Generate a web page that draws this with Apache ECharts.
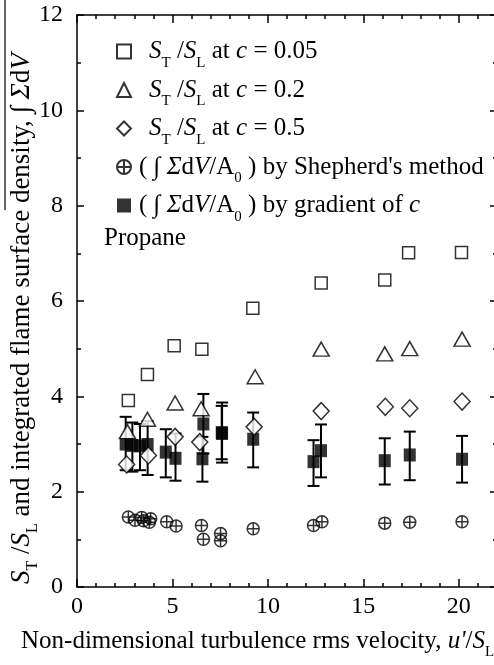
<!DOCTYPE html>
<html><head><meta charset="utf-8">
<script src="https://cdn.jsdelivr.net/npm/echarts@6/dist/echarts.min.js"></script>
<style>html,body{margin:0;padding:0;background:#fff}#c{width:494px;height:665px}</style>
</head><body><div id="c"></div>
<script>
// ---- data (x = u'/S_L, y) ----
const xTicks = [0, 5, 10, 15, 20];
const yTicks = [0, 2, 4, 6, 8, 10, 12];
const st_c005 = [[2.69,3.91],[3.69,4.46],[5.09,5.06],[6.54,4.99],[9.21,5.85],[12.79,6.38],[16.12,6.44],[17.37,7.01],[20.14,7.02]];
const st_c02 = [[2.64,3.26],[3.69,3.52],[5.14,3.86],[6.50,3.74],[9.33,4.41],[12.79,4.99],[16.12,4.89],[17.43,5.00],[20.17,5.20]];
const st_c05 = [[2.60,2.57],[3.74,2.76],[5.14,3.15],[6.43,3.04],[9.28,3.36],[12.79,3.69],[16.15,3.78],[17.43,3.75],[20.17,3.89]];
const fsd_shepherd = [[2.69,1.47],[3.04,1.40],[3.39,1.46],[3.48,1.39],[3.86,1.43],[3.79,1.36],[4.70,1.37],[5.19,1.28],[6.52,1.29],[6.62,1.00],[7.52,1.12],[7.52,0.97],[9.23,1.22],[12.39,1.29],[12.83,1.37],[16.12,1.34],[17.43,1.36],[20.17,1.37]];
// x, y, low, high
const fsd_gradient = [[2.55,3.00,2.45,3.57],[2.90,2.97,2.42,3.45],[3.30,2.96,2.45,3.42],[3.70,2.99,2.35,3.48],[4.65,2.83,2.30,3.31],[5.16,2.70,2.23,3.22],[6.57,2.69,2.21,3.15],[6.62,3.42,2.80,4.05],[7.58,3.24,2.68,3.80],[7.60,3.22,2.61,3.87],[9.23,3.10,2.51,3.66],[12.39,2.63,2.12,3.08],[12.78,2.86,2.30,3.41],[16.12,2.65,2.15,3.12],[17.43,2.77,2.24,3.26],[20.17,2.68,2.19,3.17]];
const seriesNames = ['ST/SL at c = 0.05','ST/SL at c = 0.2','ST/SL at c = 0.5',"Shepherd's method",'gradient of c'];

const FF = 'Liberation Serif';
const FS = 25;
function mkRich(fs, sfs, lh){
  return {
    n:{fontFamily:FF,fontSize:fs,color:'#000',lineHeight:lh},
    i:{fontFamily:FF,fontSize:fs,color:'#000',fontStyle:'italic',lineHeight:lh},
    s:{fontFamily:FF,fontSize:sfs,color:'#000',lineHeight:sfs,verticalAlign:'bottom'},
    g:{width:13, lineHeight:lh},
    h:{width:3, lineHeight:lh}
  };
}
const rich = mkRich(FS, 15, 38);
const richY = mkRich(27, 16, 38);
const legendText = {
  'ST/SL at c = 0.05':'{g|}{i|S}{s|T}{n| /}{i|S}{s|L}{n| at }{i|c}{n| = 0.05}',
  'ST/SL at c = 0.2':'{g|}{i|S}{s|T}{n| /}{i|S}{s|L}{n| at }{i|c}{n| = 0.2}',
  'ST/SL at c = 0.5':'{g|}{i|S}{s|T}{n| /}{i|S}{s|L}{n| at }{i|c}{n| = 0.5}',
  "Shepherd's method":'{h|}{n|( ∫ }{i|Σ}{n|d}{i|V}{n|/A}{s|0}{n| ) by Shepherd\'s method}',
  'gradient of c':'{h|}{n|( ∫ }{i|Σ}{n|d}{i|V}{n|/A}{s|0}{n| ) by gradient of }{i|c}'
};
const circlePlus = 'path://M0,6A6,6 0 1,1 12,6A6,6 0 1,1 0,6ZM6,0L6,12M0,6L12,6';

const chart = echarts.init(document.getElementById('c'), null, {renderer:'canvas'});
const lineStyle = {color:'#000', width:1.5};
function xAx(pos, interval, len, labels, line){
  return {type:'value', min:0, max:22, interval:interval, position:pos,
    axisLine:{show:line, onZero:false, lineStyle:lineStyle},
    axisTick:{show:true, inside:true, length:len, lineStyle:lineStyle},
    axisLabel:{show:labels, margin:8, fontFamily:FF, fontSize:24, color:'#000',
      formatter:v => xTicks.indexOf(v) >= 0 ? String(v) : ''},
    splitLine:{show:false}};
}
function yAx(pos, labels){
  return {type:'value', min:0, max:12, interval:2, position:pos,
    axisLine:{show:true, onZero:false, lineStyle:lineStyle},
    axisTick:{show:true, inside:true, length:7, lineStyle:lineStyle},
    minorTick:{show:true, splitNumber:2, length:4, lineStyle:lineStyle},
    axisLabel:{show:labels, margin:14, fontFamily:FF, fontSize:24, color:'#000',
      formatter:v => yTicks.indexOf(v) >= 0 ? String(v) : ''},
    splitLine:{show:false}};
}
const openStyle = {color:'#fff', borderColor:'#000', borderWidth:1.5};
const option = {
  animation:false,
  backgroundColor:'#fff',
  grid:{left:77, top:15, width:420, height:572, containLabel:false, outerBoundsMode:'none'},
  xAxis:[xAx('bottom',1,4,true,true), xAx('bottom',5,8,false,false), xAx('top',1,4,false,true), xAx('top',5,8,false,false)],
  yAxis:[yAx('left',true), yAx('right',false)],
  legend:{orient:'vertical', left:116, top:39, padding:0, itemGap:7, itemWidth:14, itemHeight:14,
    data:seriesNames, formatter:name => legendText[name],
    textStyle:{fontFamily:FF, fontSize:FS, color:'#000', rich:rich}},
  graphic:[
    {type:'text', x:104, y:238, style:{text:'Propane', font:FS+'px "'+FF+'"', fill:'#000', textVerticalAlign:'middle'}},
    {type:'text', x:21, y:641, style:{text:'{n|Non-dimensional turbulence rms velocity, }{i|u\'}{n|/}{i|S}{s|L}', rich:rich, textAlign:'left', textVerticalAlign:'middle'}},
    {type:'text', x:22, y:584, rotation:Math.PI/2, style:{text:'{i|S}{s|T}{n| /}{i|S}{s|L}{n| and integrated flame surface density, ∫ }{i|Σ}{n|d}{i|V}', rich:richY, textAlign:'left', textVerticalAlign:'middle'}},
    {type:'line', shape:{x1:5, y1:0, x2:5, y2:210}, style:{stroke:'#000', lineWidth:1.2}}
  ],
  series:[
    {type:'custom', name:'errbars', xAxisIndex:0, yAxisIndex:0, data:fsd_gradient, z:2,
      renderItem:function(params, api){
        const x = api.value(0);
        const lo = api.coord([x, api.value(2)]);
        const hi = api.coord([x, api.value(3)]);
        const w = 6;
        const st = {stroke:'#000', lineWidth:2};
        return {type:'group', children:[
          {type:'line', shape:{x1:lo[0],y1:lo[1],x2:hi[0],y2:hi[1]}, style:st},
          {type:'line', shape:{x1:lo[0]-w,y1:lo[1],x2:lo[0]+w,y2:lo[1]}, style:st},
          {type:'line', shape:{x1:hi[0]-w,y1:hi[1],x2:hi[0]+w,y2:hi[1]}, style:st}
        ]};
      }, encode:{x:0, y:1}},
    {type:'scatter', name:'gradient of c', data:fsd_gradient.map(d => [d[0], d[1]]), symbol:'rect', symbolSize:[12,13], itemStyle:{color:'#000'}, z:3},
    {type:'scatter', name:"Shepherd's method", data:fsd_shepherd, symbol:circlePlus, symbolSize:12, itemStyle:{color:'rgba(0,0,0,0)', borderColor:'#000', borderWidth:1.5}, z:4},
    {type:'scatter', name:'ST/SL at c = 0.05', data:st_c005, symbol:'rect', symbolSize:12, itemStyle:openStyle, z:5},
    {type:'scatter', name:'ST/SL at c = 0.2', data:st_c02, symbol:'triangle', symbolSize:[16,14], itemStyle:openStyle, z:5},
    {type:'scatter', name:'ST/SL at c = 0.5', data:st_c05, symbol:'diamond', symbolSize:[16,17], itemStyle:openStyle, z:5}
  ]
};
chart.setOption(option);
</script></body></html>
